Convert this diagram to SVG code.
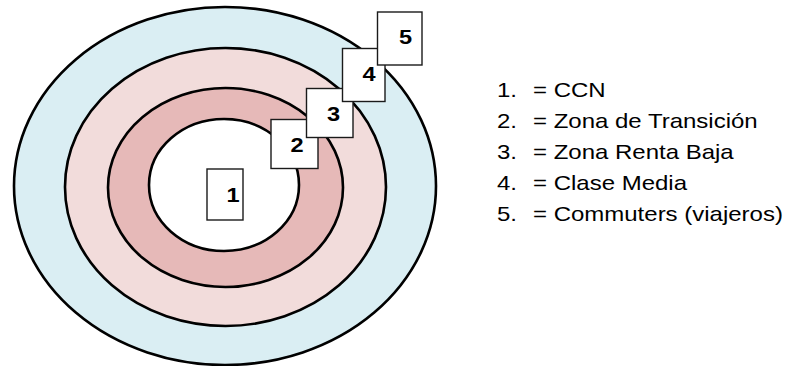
<svg xmlns="http://www.w3.org/2000/svg" width="787" height="366" viewBox="0 0 787 366">
<style>
.ring{stroke:#000;stroke-width:2.6}
.box{fill:#fff;stroke:#1a1a1a;stroke-width:1.4}
.num{font-family:"Liberation Sans",Arial,sans-serif;font-weight:bold;font-size:20.5px;fill:#000;text-anchor:middle}
.leg{font-family:"Liberation Sans",Arial,sans-serif;font-size:20px;fill:#000}
</style>
<rect width="787" height="366" fill="#fff"/>
<g id="rings">
<ellipse id="ring5" class="ring" cx="225" cy="186" rx="211" ry="179" fill="#DAEEF3"/>
<ellipse id="ring4" class="ring" cx="225.5" cy="187" rx="160.5" ry="139" fill="#F2DCDB"/>
<ellipse id="ring3" class="ring" cx="225.5" cy="187.5" rx="117.5" ry="99.5" fill="#E6B9B8"/>
<ellipse id="ring2" class="ring" cx="224" cy="185" rx="75" ry="66" fill="#fff"/>
</g>
<g id="connectors"></g>
<g id="node1"><rect class="box" x="207" y="169" width="36" height="51"/><text class="num" transform="translate(233,202) scale(1.15,1)">1</text></g>
<g id="node2"><rect class="box" x="271" y="119.5" width="47" height="49"/><text class="num" transform="translate(297,152) scale(1.15,1)">2</text></g>
<g id="node3"><rect class="box" x="306.5" y="88.5" width="46.5" height="49"/><text class="num" transform="translate(333.5,120.5) scale(1.15,1)">3</text></g>
<g id="node4"><rect class="box" x="342.5" y="48.5" width="42.5" height="53"/><text class="num" transform="translate(369,80.5) scale(1.15,1)">4</text></g>
<g id="node5"><rect class="box" x="377.5" y="12" width="44.5" height="53"/><text class="num" transform="translate(405.5,43.5) scale(1.15,1)">5</text></g>
<g id="legend">
<text class="leg" transform="translate(497,97) scale(1.2,1)">1.<tspan x="30">= CCN</tspan></text>
<text class="leg" transform="translate(497,128) scale(1.2,1)">2.<tspan x="30">= Zona de Transición</tspan></text>
<text class="leg" transform="translate(497,159) scale(1.2,1)">3.<tspan x="30">= Zona Renta Baja</tspan></text>
<text class="leg" transform="translate(497,190) scale(1.2,1)">4.<tspan x="30">= Clase Media</tspan></text>
<text class="leg" transform="translate(497,221) scale(1.2,1)">5.<tspan x="30">= Commuters (viajeros)</tspan></text>
</g>
</svg>
